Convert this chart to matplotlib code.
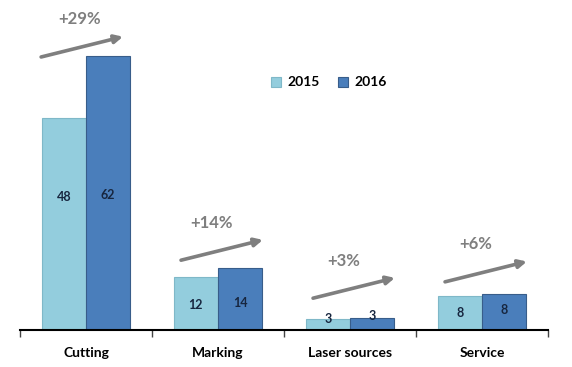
import matplotlib.pyplot as plt
import numpy as np

categories = ['Cutting', 'Marking', 'Laser sources', 'Service']
vals_2015 = [48, 12, 2.6, 7.6]
vals_2016 = [62, 14, 2.8, 8.1]
labels_2015 = ['48', '12', '3', '8']
labels_2016 = ['62', '14', '3', '8']
growth = ['+29%', '+14%', '+3%', '+6%']

light = '#93CDDD'
dark = '#4A7EBB'

plt.rcParams['font.family'] = ['Lato', 'DejaVu Sans']

fig = plt.figure(figsize=(5.72, 3.67), dpi=100)
ax = fig.add_axes([20 / 572, 37 / 367, 528 / 572, 330 / 367])

x = np.arange(len(categories))
w = 0.335
ax.bar(x - w / 2, vals_2015, w, color=light, edgecolor='#7FB8C8', linewidth=0.8, label='2015')
ax.bar(x + w / 2, vals_2016, w, color=dark, edgecolor='#385D8A', linewidth=0.8, label='2016')

# value labels inside the bars
label_h = [30, 5.6, 2.5, 3.9]
for i in range(len(categories)):
    ax.text(x[i] - w / 2, label_h[i], labels_2015[i], ha='center', va='center',
            fontsize=9, fontweight='bold', color='#17263F')
    ax.text(x[i] + w / 2, label_h[i] + 0.6, labels_2016[i], ha='center', va='center',
            fontsize=9, fontweight='bold', color='#17263F')

# growth arrows
arrow_base = [61.8, 15.8, 7.2, 10.9]
arrow_dx = [-0.06, 0, 0, 0]
for i in range(len(categories)):
    y0 = arrow_base[i]
    x0 = x[i] + arrow_dx[i]
    ax.annotate('', xy=(x0 + 0.34, y0 + 4.6), xytext=(x0 - 0.28, y0),
                arrowprops=dict(arrowstyle='-|>', color='#7F7F7F', lw=2.6,
                                mutation_scale=12, shrinkA=0, shrinkB=0))
    ax.text(x[i] - 0.05, y0 + 8.5, growth[i], ha='center', va='center',
            fontsize=12, fontweight='bold', color='#7F7F7F')

ax.set_xlim(-0.5, 3.5)
ax.set_ylim(0, 74.7)
ax.set_xticks(x)
ax.set_xticklabels(categories, fontsize=10, fontweight='bold')
ax.set_xticks(np.arange(-0.5, 4.0, 1), minor=True)
ax.tick_params(axis='x', which='major', length=0, pad=12)
ax.tick_params(axis='x', which='minor', length=5, width=1, color='#444444')
ax.set_yticks([])
for s in ['top', 'right', 'left']:
    ax.spines[s].set_visible(False)
ax.spines['bottom'].set_linewidth(1.5)

ax.legend(loc='center', bbox_to_anchor=(0.585, 0.75), ncol=2, frameon=False,
          handlelength=0.7, handleheight=0.7, handletextpad=0.5, columnspacing=1.3,
          prop={'weight': 'bold', 'size': 10})

fig.savefig('out.png', dpi=100)
